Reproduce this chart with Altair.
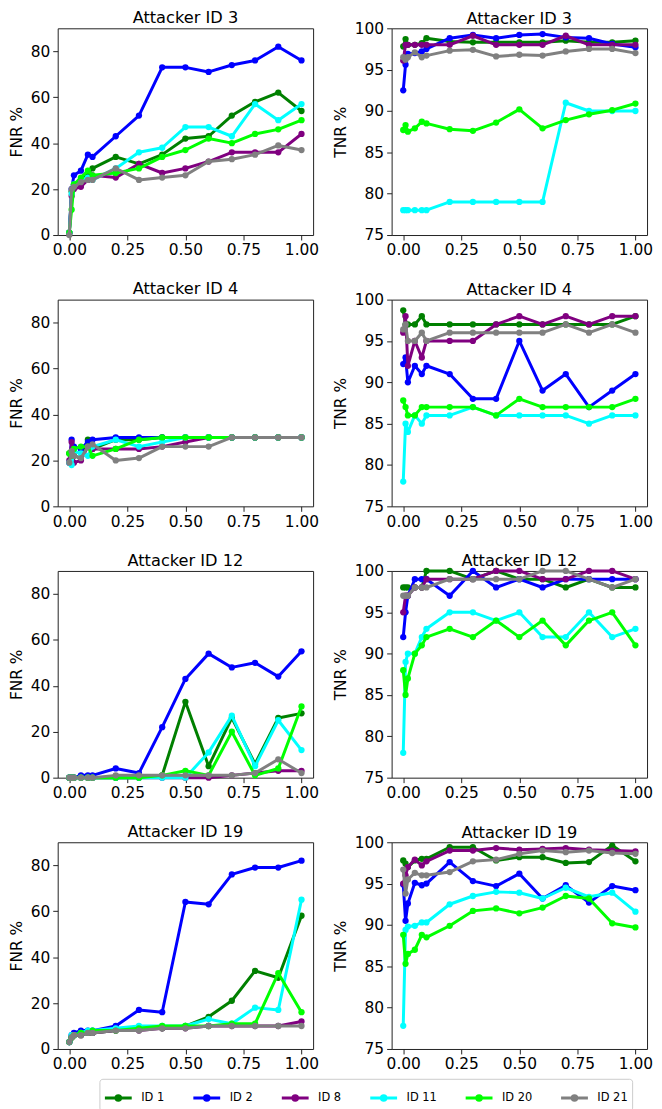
import altair as alt
import pandas as pd

X = [0, 0.01, 0.02, 0.05, 0.08, 0.1, 0.2, 0.3, 0.4, 0.5, 0.6, 0.7, 0.8, 0.9, 1.0]
SERIES = ["ID 1", "ID 2", "ID 8", "ID 11", "ID 20", "ID 21"]
COLORS = ["#008000", "#0000ff", "#800080", "#00ffff", "#00ff00", "#808080"]
X_TICKS = [0, 0.25, 0.5, 0.75, 1.0]
FNR_TICKS = [0, 20, 40, 60, 80]
TNR_TICKS = [75, 80, 85, 90, 95, 100]

FNR_3 = {
    "ID 1": [1, 19, 22, 24, 27, 29, 34, 31, 35, 42, 43, 52, 58, 62, 54],
    "ID 2": [1, 20, 26, 28, 35, 34, 43, 52, 73, 73, 71, 74, 76, 82, 76],
    "ID 8": [1, 17, 20, 21, 24, 26, 25, 31, 27, 29, 32, 36, 36, 36, 44],
    "ID 11": [1, 18, 22, 24, 25, 24, 29, 36, 38, 47, 47, 43, 57, 50, 57],
    "ID 20": [1, 11, 22, 25, 28, 26, 27, 29, 34, 37, 42, 40, 44, 46, 50],
    "ID 21": [0, 20, 21, 23, 24, 24, 29, 24, 25, 26, 32, 33, 35, 39, 37],
}
TNR_3 = {
    "ID 1": [97.8, 98.7, 98.0, 98.0, 98.2, 98.8, 98.4, 98.3, 98.3, 98.3, 98.3, 98.5, 98.3, 98.3, 98.5],
    "ID 2": [92.5, 95.6, 96.9, 97.0, 97.2, 97.5, 98.8, 99.2, 98.8, 99.2, 99.3, 98.9, 98.8, 98.1, 97.7],
    "ID 8": [96.1, 98.0, 98.0, 98.0, 98.0, 98.0, 98.0, 99.1, 98.0, 98.0, 98.0, 99.1, 98.0, 98.0, 98.0],
    "ID 11": [78, 78, 78, 78, 78, 78, 79, 79, 79, 79, 79, 91, 90, 90, 90],
    "ID 20": [87.7, 88.3, 87.5, 87.9, 88.7, 88.5, 87.8, 87.6, 88.6, 90.2, 87.9, 88.9, 89.6, 90.1, 90.9],
    "ID 21": [96.5, 96.2, 96.5, 97.1, 96.5, 96.7, 97.3, 97.4, 96.6, 96.8, 96.7, 97.2, 97.5, 97.5, 97.0],
}
FNR_4 = {
    "ID 1": [23, 24, 22, 21, 29, 25, 29, 29, 30, 30, 30, 30, 30, 30, 30],
    "ID 2": [19, 29, 26, 25, 28, 29, 30, 30, 30, 30, 30, 30, 30, 30, 30],
    "ID 8": [20, 28, 19, 20, 26, 25, 25, 25, 26, 28, 30, 30, 30, 30, 30],
    "ID 11": [19, 18, 24, 23, 22, 26, 29, 26, 28, 30, 30, 30, 30, 30, 30],
    "ID 20": [23, 22, 25, 26, 26, 22, 25, 29, 30, 30, 30, 30, 30, 30, 30],
    "ID 21": [19, 24, 22, 21, 26, 27, 20, 21, 26, 26, 26, 30, 30, 30, 30],
}
TNR_4 = {
    "ID 1": [98.7, 97, 97, 97, 98, 97, 97, 97, 97, 97, 97, 97, 97, 97, 98],
    "ID 2": [92.2, 93, 90, 92, 91, 92, 91, 88, 88, 95, 89, 91, 87, 89, 91],
    "ID 8": [96, 98, 92, 95, 93, 95, 95, 95, 97, 98, 97, 98, 97, 98, 98],
    "ID 11": [78, 85, 84, 86, 85, 86, 86, 87, 86, 86, 86, 86, 85, 86, 86],
    "ID 20": [87.8, 87, 86, 86, 87, 87, 87, 87, 86, 88, 87, 87, 87, 87, 88],
    "ID 21": [96.4, 97, 95, 95, 96, 95, 96, 96, 96, 96, 96, 97, 96, 97, 96],
}
FNR_12 = {
    "ID 1": [0, 0, 0, 0, 0, 0, 0, 0, 1, 33, 5, 26, 6, 26, 28],
    "ID 2": [0, 0, 0, 1, 1, 1, 4, 2, 22, 43, 54, 48, 50, 44, 55],
    "ID 8": [0, 0, 0, 0, 0, 0, 0, 0, 0, 0, 0, 1, 2, 3, 3],
    "ID 11": [0, 0, 0, 0, 0, 0, 0, 0, 0, 0, 11, 27, 5, 25, 12],
    "ID 20": [0, 0, 0, 0, 0, 0, 0, 0, 1, 3, 1, 20, 1, 4, 31],
    "ID 21": [0, 0, 0, 0, 0, 0, 1, 1, 1, 1, 1, 1, 2, 8, 2],
}
TNR_12 = {
    "ID 1": [98, 98, 98, 98, 98, 100, 100, 99, 100, 99, 99, 98, 99, 98, 98],
    "ID 2": [92, 95, 97, 99, 99, 99, 97, 100, 98, 99, 98, 99, 99, 99, 99],
    "ID 8": [95, 97, 97, 98, 98, 99, 99, 99, 100, 100, 99, 99, 100, 100, 99],
    "ID 11": [78, 89, 90, 90, 92, 93, 95, 95, 94, 95, 92, 92, 95, 92, 93],
    "ID 20": [88, 85, 87, 90, 91, 92, 93, 92, 94, 92, 94, 91, 94, 95, 91],
    "ID 21": [97, 97, 97, 98, 98, 98, 99, 99, 99, 99, 100, 100, 99, 98, 99],
}
FNR_19 = {
    "ID 1": [3, 5, 6, 6, 7, 7, 8, 9, 9, 10, 14, 21, 34, 31, 58],
    "ID 2": [3, 6, 7, 8, 8, 8, 10, 17, 16, 64, 63, 76, 79, 79, 82],
    "ID 8": [3, 5, 6, 6, 7, 7, 8, 8, 9, 9, 10, 10, 10, 10, 12],
    "ID 11": [3, 6, 6, 7, 8, 8, 9, 10, 10, 10, 13, 11, 18, 17, 65],
    "ID 20": [3, 5, 6, 7, 7, 8, 8, 9, 10, 10, 10, 11, 11, 33, 16],
    "ID 21": [3, 5, 6, 6, 7, 7, 8, 8, 9, 9, 10, 10, 10, 10, 10],
}
TNR_19 = {
    "ID 1": [97.8, 97.4, 97.0, 97.8, 98.0, 98.0, 99.4, 99.4, 97.8, 98.2, 98.2, 97.5, 97.6, 99.6, 97.7],
    "ID 2": [94.9, 90.5, 92.6, 95.1, 94.8, 95.0, 97.6, 95.3, 94.7, 96.2, 93.2, 94.8, 92.7, 94.7, 94.2],
    "ID 8": [95.0, 96.0, 97.0, 97.9, 97.2, 97.7, 99.0, 99.0, 99.3, 99.1, 99.2, 99.3, 99.1, 99.0, 98.9],
    "ID 11": [77.8, 89.4, 89.8, 89.9, 90.3, 90.3, 92.5, 93.5, 94.0, 93.9, 93.2, 94.5, 93.4, 93.9, 91.6],
    "ID 20": [88.8, 85.3, 86.5, 87.0, 88.8, 88.5, 89.9, 91.7, 92.0, 91.4, 92.1, 93.5, 93.2, 90.2, 89.7],
    "ID 21": [96.7, 93.8, 95.5, 96.3, 96.0, 96.0, 96.4, 97.7, 97.9, 98.6, 99.0, 98.8, 99.0, 98.7, 98.6],
}

PANELS = [
    (3, FNR_3, TNR_3),
    (4, FNR_4, TNR_4),
    (12, FNR_12, TNR_12),
    (19, FNR_19, TNR_19),
]

LEGEND_SYMBOL = "M-1,0H1M-0.17,0A0.17,0.17,0,1,0,0.17,0A0.17,0.17,0,1,0,-0.17,0Z"

legend = alt.Legend(
    title=None,
    orient="none",
    legendX=42,
    legendY=1057,
    direction="horizontal",
    columns=6,
    symbolType=LEGEND_SYMBOL,
    symbolSize=729,
    symbolStrokeWidth=3,
    symbolOpacity=1,
    labelFontSize=11.5,
    labelFont="DejaVu Sans",
    labelColor="black",
    labelOffset=8,
    columnPadding=22,
    padding=4,
    strokeColor="#cccccc",
    fillColor="white",
    cornerRadius=3,
)

color_scale = alt.Scale(domain=SERIES, range=COLORS)


def panel(attacker, data, metric, width, title_offset):
    rows = []
    for s in SERIES:
        for xv, v in zip(X, data[s]):
            rows.append({"x": xv, "v": v, "series": s})
    df = pd.DataFrame(rows)
    if metric == "FNR":
        ydom, yticks = [0, 90], FNR_TICKS
    else:
        ydom, yticks = [75, 100], TNR_TICKS
    xenc = alt.X(
        "x:Q",
        scale=alt.Scale(domain=[-0.05, 1.05], nice=False, zero=False),
        axis=alt.Axis(values=X_TICKS, format=".2f", title=None, labelFlush=False),
    )
    yenc = alt.Y(
        "v:Q",
        scale=alt.Scale(domain=ydom, nice=False, zero=False),
        axis=alt.Axis(values=yticks, title=f"{metric} %"),
    )
    layers = []
    for s in SERIES:
        base = alt.Chart().transform_filter(alt.datum.series == s)
        line = base.mark_line(strokeWidth=3, strokeJoin="round", strokeCap="round").encode(
            x=xenc, y=yenc, color=alt.Color("series:N", scale=color_scale, legend=legend)
        )
        pts = base.mark_point(filled=True, size=40, opacity=1).encode(
            x=xenc, y=yenc, fill=alt.Fill("series:N", scale=color_scale, legend=legend)
        )
        layers += [line, pts]
    return alt.layer(*layers, data=df).properties(
        width=width,
        height=208,
        title=alt.TitleParams(
            text=f"Attacker ID {attacker}", frame="group", anchor="middle", offset=title_offset
        ),
    )


rows = []
for att, fnr, tnr in PANELS:
    rows.append(
        alt.hconcat(
            panel(att, fnr, "FNR", 257, 2),
            panel(att, tnr, "TNR", 257, -5.75),
            spacing=12,
        )
    )

chart = (
    alt.vconcat(*rows, spacing=22)
    .properties(padding={"left": 0, "top": -2, "right": 0, "bottom": 0})
    .configure(font="DejaVu Sans")
    .configure_view(stroke="#222222", strokeWidth=1)
    .configure_axis(
        domain=False,
        grid=False,
        ticks=True,
        tickSize=5,
        tickColor="#222222",
        tickWidth=1,
        labelFontSize=15.5,
        labelColor="black",
        labelPadding=3,
        titleFontSize=15.5,
        titleFontWeight="normal",
        titleColor="black",
        titlePadding=6,
    )
    .configure_title(fontSize=16.3, fontWeight="normal", color="black")
)

chart.save("out.html", embed_options={"renderer": "svg", "actions": False})
